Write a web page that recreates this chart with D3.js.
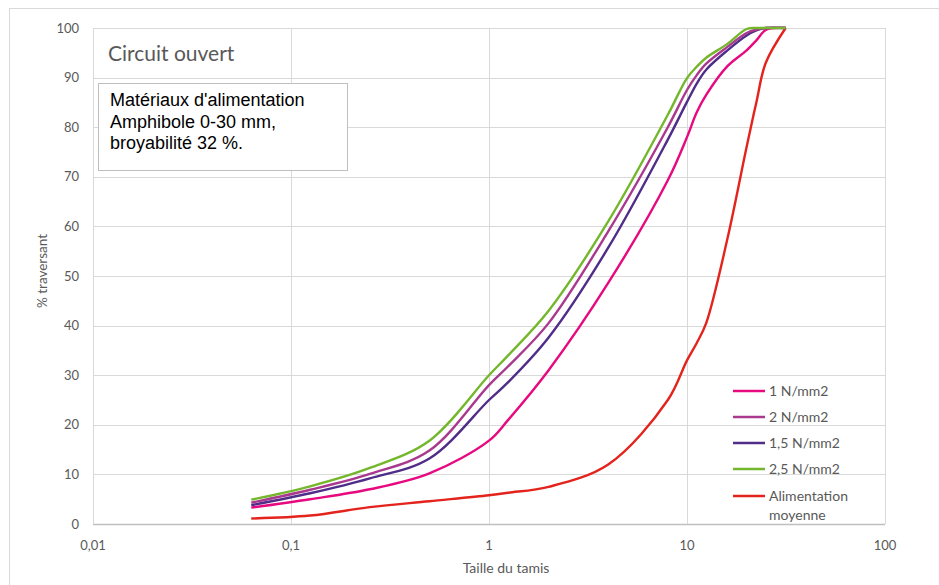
<!DOCTYPE html>
<html>
<head>
<meta charset="utf-8">
<script src="https://cdn.jsdelivr.net/npm/d3@7"></script>
<style>
  body { margin: 0; background: #fff; }
  text { font-family: Lato, "Open Sans", sans-serif; }
</style>
</head>
<body>
<div id="chart"></div>
<script>
// sieve sizes (mm)
let sieves = [0.063, 0.125, 0.25, 0.5, 1, 1.25, 2, 4, 8, 10, 11.2, 12.5, 16, 20, 22.4, 25, 31.5];

// % passing for each pressure
let p1 = [3.3, 5.0, 7.0, 10.2, 16.8, 21.0, 31.0, 48.6, 69.3, 78.0, 83.0, 86.5, 92.3, 95.5, 97.5, 99.6, 100];
let p2 = [4.3, 6.9, 10.1, 14.8, 28.0, 31.8, 40.5, 59.0, 80.0, 87.5, 90.5, 92.8, 96.2, 99.0, 99.7, 100, 100];
let p15 = [3.8, 6.2, 9.2, 13.2, 25.0, 28.6, 37.6, 55.7, 77.5, 85.1, 88.8, 91.6, 95.5, 98.5, 99.5, 100, 100];
let p25 = [4.9, 7.6, 11.3, 16.8, 30.0, 34.0, 43.0, 61.0, 82.5, 89.9, 92.2, 94.0, 96.8, 99.8, 100, 100, 100];
let feed = [1.1, 1.7, 3.4, 4.6, 5.8, 6.3, 7.5, 12.0, 25.0, 33.0, 36.5, 40.5, 57.5, 76.0, 85.0, 93.0, 100];

let seriesNames = ["1 N/mm2", "2 N/mm2", "1,5 N/mm2", "2,5 N/mm2", "Alimentation moyenne"];
let seriesValues = [p1, p2, p15, p25, feed];
let seriesColors = ["#e6097f", "#a9388f", "#4f2d88", "#74b72c", "#e3231c"];

let xTicks = [0.01, 0.1, 1, 10, 100];
let xTickLabels = ["0,01", "0,1", "1", "10", "100"];
let yTicks = [0, 10, 20, 30, 40, 50, 60, 70, 80, 90, 100];

let noteLines = ["Matériaux d'alimentation", "Amphibole 0-30 mm,", "broyabilité 32 %."];

// size and margins
let W = 939, H = 585;
let margin = {top: 28, right: 54, bottom: 61, left: 93},
    width = W - margin.left - margin.right,
    height = H - margin.top - margin.bottom;

let svgRoot = d3.select("#chart").append("svg")
    .attr("width", W)
    .attr("height", H);

// chart frame
svgRoot.append("rect")
    .attr("x", 9.5).attr("y", 8.5)
    .attr("width", W).attr("height", H)
    .attr("fill", "none")
    .attr("stroke", "#d9d9d9");

let svg = svgRoot.append("g")
    .attr("transform", "translate(" + margin.left + "," + margin.top + ")");

// scales
let x = d3.scaleLog().domain([0.01, 100]).range([0, width]);
let y = d3.scaleLinear().domain([0, 100]).range([height, 0]);

// horizontal gridlines
svg.append("g")
    .selectAll("line")
    .data(yTicks)
    .enter()
    .append("line")
    .attr("x1", 0).attr("x2", width)
    .attr("y1", d => Math.round(y(d)) + 0.5)
    .attr("y2", d => Math.round(y(d)) + 0.5)
    .attr("stroke", d => d == 0 ? "#bfbfbf" : "#d9d9d9")
    .attr("stroke-width", d => d == 0 ? 1.5 : 1);

// vertical gridlines
svg.append("g")
    .selectAll("line")
    .data(xTicks)
    .enter()
    .append("line")
    .attr("y1", 0).attr("y2", height)
    .attr("x1", d => Math.round(x(d)) + 0.5)
    .attr("x2", d => Math.round(x(d)) + 0.5)
    .attr("stroke", "#d9d9d9");

// y tick labels
svg.append("g")
    .selectAll("text")
    .data(yTicks)
    .enter()
    .append("text")
    .attr("x", -14)
    .attr("y", d => y(d))
    .attr("dy", "0.35em")
    .attr("text-anchor", "end")
    .style("font-size", "13px")
    .style("fill", "#595959")
    .text(d => d);

// x tick labels
svg.append("g")
    .selectAll("text")
    .data(xTicks)
    .enter()
    .append("text")
    .attr("x", d => x(d))
    .attr("y", height + 21)
    .attr("dy", "0.35em")
    .attr("text-anchor", "middle")
    .style("font-size", "13px")
    .style("fill", "#595959")
    .text((d, i) => xTickLabels[i]);

// axis titles
svg.append("text")
    .attr("x", 506 - margin.left)
    .attr("y", height + 44)
    .attr("dy", "0.35em")
    .attr("text-anchor", "middle")
    .style("font-size", "14px")
    .style("fill", "#595959")
    .text("Taille du tamis");

svg.append("text")
    .attr("transform", "translate(" + (42 - margin.left) + "," + (271 - margin.top) + ") rotate(-90)")
    .attr("dy", "0.35em")
    .attr("text-anchor", "middle")
    .style("font-size", "13.5px")
    .style("fill", "#595959")
    .text("% traversant");

// curves (smoothed like the spreadsheet)
let line = d3.line()
    .x(d => x(d[0]))
    .y(d => y(d[1]))
    .curve(d3.curveCatmullRom.alpha(0.5));

// feed first, then products
let drawOrder = [4, 0, 2, 1, 3];
drawOrder.forEach(function(k) {
    svg.append("path")
        .datum(sieves.map((s, i) => [s, seriesValues[k][i]]))
        .attr("fill", "none")
        .attr("stroke", seriesColors[k])
        .attr("stroke-width", 2.4)
        .attr("stroke-linejoin", "round")
        .attr("d", line);
});

// title
svg.append("text")
    .attr("x", 108 - margin.left)
    .attr("y", 54 - margin.top)
    .attr("dy", "0.35em")
    .style("font-size", "21px")
    .style("fill", "#595959")
    .text("Circuit ouvert");

// note box
svg.append("rect")
    .attr("x", 98.5 - margin.left)
    .attr("y", 83.5 - margin.top)
    .attr("width", 249)
    .attr("height", 87)
    .attr("fill", "#fff")
    .attr("stroke", "#bfbfbf");

svg.append("g")
    .selectAll("text")
    .data(noteLines)
    .enter()
    .append("text")
    .attr("x", 110 - margin.left)
    .attr("y", (d, i) => 106 - margin.top + i * 21.5)
    .style("font-family", "'Liberation Sans', Arial, sans-serif")
    .style("font-size", "18px")
    .style("fill", "#000")
    .text(d => d);

// legend
let legendY = [391, 417, 443, 469, 496];
let legend = svg.append("g");
seriesNames.forEach(function(name, i) {
    legend.append("line")
        .attr("x1", 733 - margin.left).attr("x2", 765 - margin.left)
        .attr("y1", legendY[i] - margin.top).attr("y2", legendY[i] - margin.top)
        .attr("stroke", seriesColors[i])
        .attr("stroke-width", 2.5);
    let words = name == "Alimentation moyenne" ? ["Alimentation", "moyenne"] : [name];
    let t = legend.append("text")
        .attr("x", 769 - margin.left)
        .attr("y", legendY[i] - margin.top)
        .style("font-size", "14px")
        .style("fill", "#595959");
    words.forEach(function(w, j) {
        t.append("tspan")
            .attr("x", 769 - margin.left)
            .attr("dy", j == 0 ? "0.35em" : "1.35em")
            .text(w);
    });
});
</script>
</body>
</html>
